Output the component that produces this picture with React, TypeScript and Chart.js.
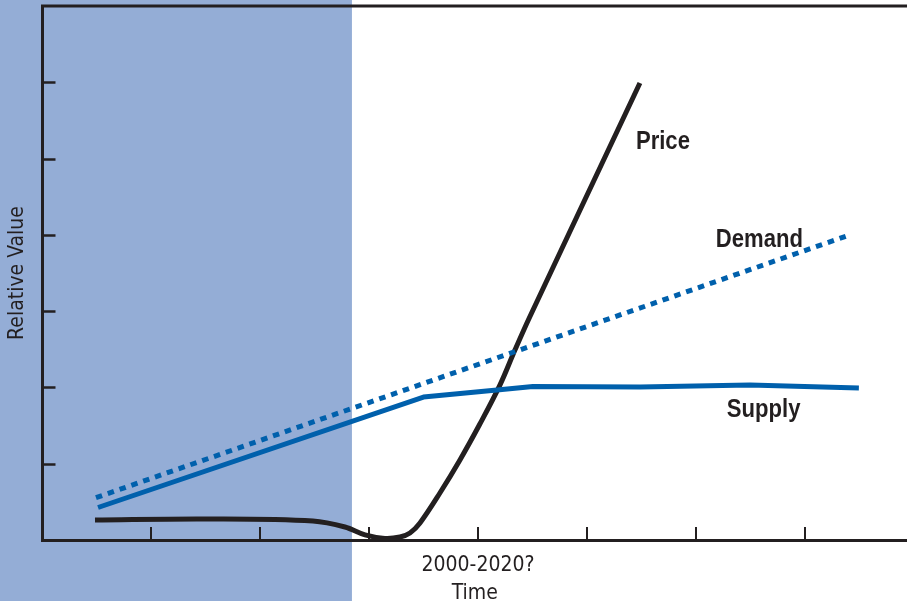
import React, { useEffect, useRef } from 'react';
import { Chart, registerables } from 'chart.js';

Chart.register(...registerables);

// ---- data (x in time-tick units, y in relative-value units) ----
const priceX = [0.482, 1.492, 2.484, 2.778, 2.962, 3.145, 3.283, 3.375, 3.467, 3.65, 3.834, 4.017, 4.201, 4.339, 4.477, 5.487];
const priceY = [0.262, 0.275, 0.249, 0.17, 0.066, 0.02, 0.039, 0.092, 0.223, 0.616, 1.049, 1.52, 2.03, 2.49, 2.93, 5.99];

const supplyX = [0.51, 3.499, 4.174, 4.504, 5.487, 6.497, 7.498];
const supplyY = [0.426, 1.874, 1.966, 2.012, 2.005, 2.032, 1.992];

const demandX = [0.491, 7.415];
const demandY = [0.555, 4.0];

const xTickLabels: Record<number, string> = { 4: '2000-2020?' };
const xAxisTitle = 'Time';
const yAxisTitle = 'Relative Value';

const seriesNames = ['Price', 'Demand', 'Supply'];
const seriesLabelX = [5.45, 6.184, 6.285];
const seriesLabelY = [5.125, 3.841, 1.612];

const SHADE_END = 2.842;

const DARK = '#231F20';
const BLUE = '#0060AC';
const SHADE = '#94ADD6';
const AXIS_FONT = "'DejaVu Sans Condensed', 'Liberation Sans Narrow', sans-serif";
const LABEL_FONT = "'Liberation Sans', Arial, sans-serif";

const toPoints = (xs: number[], ys: number[]) => xs.map((x, i) => ({ x, y: ys[i] }));

const decorPlugin = {
  id: 'decor',
  beforeDraw(chart: any) {
    const { ctx, scales } = chart;
    const xs = scales.x;
    ctx.save();
    ctx.fillStyle = SHADE;
    ctx.fillRect(0, 0, xs.getPixelForValue(SHADE_END), chart.height);
    ctx.restore();
  },
  beforeDatasetsDraw(chart: any) {
    const { ctx, scales, chartArea } = chart;
    const xs = scales.x;
    const ys = scales.y;
    ctx.save();
    ctx.strokeStyle = DARK;
    // top frame line
    ctx.lineWidth = 3;
    ctx.beginPath();
    ctx.moveTo(chartArea.left - 1.5, chartArea.top);
    ctx.lineTo(chart.width, chartArea.top);
    ctx.stroke();
    // inward ticks
    ctx.lineWidth = 2.5;
    for (let v = 1; v < ys.max; v++) {
      const py = Math.round(ys.getPixelForValue(v)) + 0.5;
      ctx.beginPath();
      ctx.moveTo(chartArea.left, py);
      ctx.lineTo(chartArea.left + 13, py);
      ctx.stroke();
    }
    ctx.lineWidth = 2;
    for (let v = 1; v < xs.max; v++) {
      const px = Math.round(xs.getPixelForValue(v));
      ctx.beginPath();
      ctx.moveTo(px, chartArea.bottom);
      ctx.lineTo(px, chartArea.bottom - 13);
      ctx.stroke();
    }
    ctx.restore();
  },
  afterDraw(chart: any) {
    const { ctx, scales } = chart;
    seriesNames.forEach((name, i) => {
      ctx.save();
      ctx.fillStyle = DARK;
      ctx.font = `bold 26px ${LABEL_FONT}`;
      ctx.textAlign = 'left';
      ctx.textBaseline = 'alphabetic';
      ctx.translate(scales.x.getPixelForValue(seriesLabelX[i]), scales.y.getPixelForValue(seriesLabelY[i]));
      ctx.scale(0.85, 1);
      ctx.fillText(name, 0, 0);
      ctx.restore();
    });
  },
};

export default function App() {
  const ref = useRef<HTMLCanvasElement | null>(null);

  useEffect(() => {
    if (!ref.current) return;
    const chart = new Chart(ref.current, {
      type: 'line',
      data: {
        datasets: [
          {
            label: 'Supply',
            data: toPoints(supplyX, supplyY),
            borderColor: BLUE,
            borderWidth: 5,
            pointRadius: 0,
            tension: 0,
            borderJoinStyle: 'round',
            clip: false,
          },
          {
            label: 'Demand',
            data: toPoints(demandX, demandY),
            borderColor: BLUE,
            borderWidth: 5,
            borderDash: [6.5, 6],
            borderCapStyle: 'butt',
            pointRadius: 0,
            clip: false,
          },
          {
            label: 'Price',
            data: toPoints(priceX, priceY),
            borderColor: DARK,
            borderWidth: 5,
            pointRadius: 0,
            tension: 0.35,
            borderJoinStyle: 'round',
            clip: false,
          },
        ],
      },
      options: {
        animation: false,
        responsive: false,
        devicePixelRatio: 1,
        layout: { padding: { top: 6, left: 0, right: 0, bottom: 0 } },
        plugins: { legend: { display: false }, tooltip: { enabled: false } },
        scales: {
          x: {
            type: 'linear',
            min: 0,
            max: 7.94,
            afterFit: (s: any) => {
              s.height = 61;
              s.paddingLeft = 0;
              s.paddingRight = 0;
            },
            grid: { display: false, drawTicks: false },
            border: { display: true, color: DARK, width: 3 },
            ticks: {
              stepSize: 1,
              autoSkip: false,
              maxRotation: 0,
              padding: 13,
              color: DARK,
              font: { family: AXIS_FONT, size: 21 },
              callback: (v: any) => xTickLabels[v as number] ?? '',
            },
            title: {
              display: true,
              text: xAxisTitle,
              color: DARK,
              font: { family: AXIS_FONT, size: 21, lineHeight: 0.73 },
              padding: 0,
            },
          },
          y: {
            type: 'linear',
            min: 0,
            max: 7,
            afterFit: (s: any) => {
              s.width = 42.5;
              s.paddingTop = 0;
              s.paddingBottom = 0;
            },
            grid: { display: false, drawTicks: false },
            border: { display: true, color: DARK, width: 3 },
            ticks: { display: false },
            title: {
              display: true,
              text: yAxisTitle,
              color: DARK,
              font: { family: AXIS_FONT, size: 21 },
              padding: { top: 5, bottom: 0 },
            },
          },
        },
      },
      plugins: [decorPlugin],
    } as any);
    return () => chart.destroy();
  }, []);

  return (
    <div style={{ position: 'fixed', left: 0, top: 0, width: 907, height: 601, background: '#ffffff' }}>
      <canvas ref={ref} width={907} height={601} style={{ display: 'block' }} />
    </div>
  );
}
